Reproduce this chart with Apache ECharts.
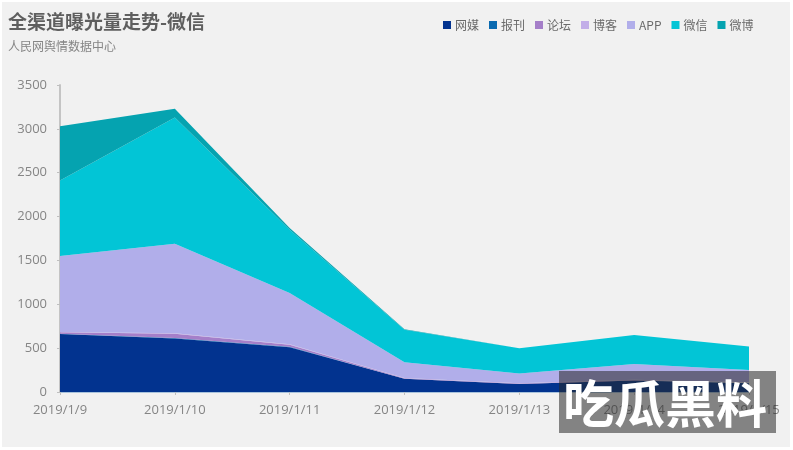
<!DOCTYPE html>
<html>
<head>
<meta charset="utf-8">
<style>
  html, body { margin: 0; padding: 0; background: #fff; }
  #main { width: 793px; height: 450px; }
</style>
<script src="https://cdn.jsdelivr.net/npm/echarts@6/dist/echarts.min.js"></script>
</head>
<body>
<div id="main"></div>
<script>
var days = ['2019/1/9', '2019/1/10', '2019/1/11', '2019/1/12', '2019/1/13', '2019/1/14', '2019/1/15'];
var wangmei = [660, 610, 510, 150, 90, 130, 100];
var baokan = [5, 5, 5, 2, 2, 2, 2];
var luntan = [15, 50, 25, 5, 5, 5, 5];
var boke = [5, 5, 5, 3, 3, 3, 3];
var app = [865, 1020, 585, 180, 110, 180, 140];
var weixin = [860, 1440, 720, 370, 290, 330, 270];
var weibo = [620, 100, 20, 5, 0, 0, 0];

var fontName = '"Noto Sans CJK SC", sans-serif';

function makeArea(name, values, color) {
  return {
    name: name,
    type: 'line',
    stack: 'all',
    symbol: 'none',
    data: values,
    lineStyle: { width: 0 },
    itemStyle: { color: color },
    areaStyle: { color: color, opacity: 1 }
  };
}

var chart = echarts.init(document.getElementById('main'));
chart.setOption({
  animation: false,
  backgroundColor: '#fff',
  textStyle: { fontFamily: fontName },
  title: {
    text: '全渠道曝光量走势-微信',
    subtext: '人民网舆情数据中心',
    left: 3,
    top: 7,
    itemGap: 9,
    textStyle: { fontSize: 19, fontWeight: 'bold', color: '#5f5f5f', fontFamily: fontName },
    subtextStyle: { fontSize: 12, color: '#858585', fontFamily: fontName }
  },
  legend: {
    left: 438,
    top: 14,
    icon: 'rect',
    itemWidth: 8,
    itemHeight: 8,
    itemGap: 10,
    textStyle: { fontSize: 12, color: '#6a6a6a', padding: [0, 0, 0, -1] }
  },
  grid: { left: 60, right: 44, top: 85, bottom: 58 },
  xAxis: {
    type: 'category',
    boundaryGap: false,
    data: days,
    axisLine: { lineStyle: { color: '#a9c3dc', width: 1 } },
    axisTick: { show: true, alignWithLabel: true, length: 3, lineStyle: { color: '#bfbfbf' } },
    axisLabel: { color: '#858585', fontSize: 13, fontWeight: 500, margin: 12, fontFamily: 'Open Sans', hideOverlap: false, showMaxLabel: true }
  },
  yAxis: {
    type: 'value',
    min: 0,
    max: 3500,
    interval: 500,
    splitLine: { show: false },
    axisLine: { show: true, lineStyle: { color: '#c4c4c4', width: 2 } },
    axisTick: { show: true, length: 3, lineStyle: { color: '#bfbfbf' } },
    axisLabel: {
      color: '#858585',
      fontSize: 13,
      fontWeight: 500,
      margin: 13,
      fontFamily: 'Open Sans',
      formatter: function (value) { return String(value); }
    }
  },
  graphic: [
    {
      type: 'rect',
      z: -1,
      silent: true,
      shape: { x: 2, y: 2, width: 788, height: 445 },
      style: { fill: '#f1f1f1' }
    },
    {
      type: 'rect',
      z: 100,
      silent: true,
      shape: { x: 559, y: 371, width: 217, height: 62 },
      style: { fill: 'rgba(40,40,40,0.55)' }
    },
    {
      type: 'text',
      z: 101,
      silent: true,
      x: 563,
      y: 378,
      style: {
        text: '吃瓜黑料',
        fill: '#fff',
        fontSize: 51,
        fontWeight: 'bold',
        fontFamily: '"Noto Sans CJK SC", serif'
      }
    }
  ],
  series: [
    makeArea('网媒', wangmei, '#02338f'),
    makeArea('报刊', baokan, '#0a6ab0'),
    makeArea('论坛', luntan, '#a57fc9'),
    makeArea('博客', boke, '#c2aee8'),
    makeArea('APP', app, '#b1aeea'),
    makeArea('微信', weixin, '#02c5d6'),
    makeArea('微博', weibo, '#05a3b0')
  ]
});
</script>
</body>
</html>
